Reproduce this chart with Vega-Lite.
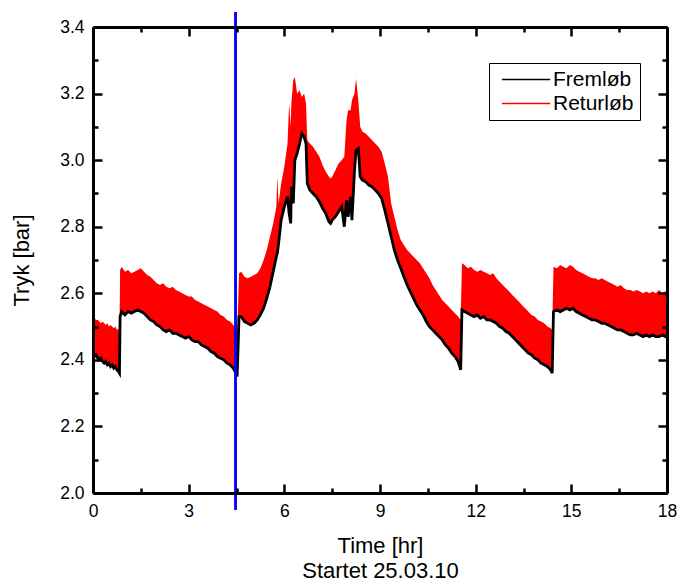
{
  "$schema": "https://vega.github.io/schema/vega-lite/v6.json",
  "width": 574,
  "height": 466,
  "autosize": "none",
  "padding": {"left": 93, "top": 27, "right": 13, "bottom": 90},
  "background": "white",
  "config": {
    "view": {"stroke": null},
    "font": "Liberation Sans",
    "axis": {"grid": false, "domainColor": "#000000", "domainWidth": 3, "tickColor": "#000000", "tickWidth": 2.5, "ticks": true, "labelColor": "black", "labelFont": "Liberation Sans", "labelFontSize": 17.5, "titleFont": "Liberation Sans", "titleFontSize": 22, "titleFontWeight": "normal", "titleColor": "black", "labelFlush": false}
  },
  "datasets": {
    "tryk": [
      {"t":0.00,"f":2.42,"r":2.53},{"t":0.05,"f":2.41,"r":2.525},{"t":0.10,"f":2.415,"r":2.52},{"t":0.15,"f":2.405,"r":2.52},
      {"t":0.20,"f":2.40,"r":2.515},{"t":0.25,"f":2.405,"r":2.51},{"t":0.30,"f":2.395,"r":2.515},{"t":0.35,"f":2.39,"r":2.51},
      {"t":0.40,"f":2.395,"r":2.505},{"t":0.45,"f":2.385,"r":2.51},{"t":0.50,"f":2.39,"r":2.50},{"t":0.55,"f":2.38,"r":2.505},
      {"t":0.60,"f":2.385,"r":2.50},{"t":0.65,"f":2.375,"r":2.495},{"t":0.70,"f":2.38,"r":2.50},{"t":0.75,"f":2.37,"r":2.49},
      {"t":0.80,"f":2.365,"r":2.495},{"t":0.83,"f":2.36,"r":2.49},
      {"t":0.85,"f":2.53,"r":2.67},{"t":0.90,"f":2.545,"r":2.68},{"t":1.0,"f":2.535,"r":2.665},{"t":1.1,"f":2.545,"r":2.67},
      {"t":1.2,"f":2.54,"r":2.66},{"t":1.3,"f":2.545,"r":2.665},{"t":1.4,"f":2.55,"r":2.67},{"t":1.5,"f":2.545,"r":2.675},
      {"t":1.6,"f":2.54,"r":2.665},{"t":1.7,"f":2.53,"r":2.655},{"t":1.8,"f":2.52,"r":2.65},{"t":1.9,"f":2.515,"r":2.64},
      {"t":2.0,"f":2.505,"r":2.63},{"t":2.1,"f":2.50,"r":2.625},{"t":2.2,"f":2.49,"r":2.63},{"t":2.3,"f":2.485,"r":2.62},
      {"t":2.4,"f":2.49,"r":2.615},{"t":2.5,"f":2.48,"r":2.62},{"t":2.6,"f":2.48,"r":2.61},{"t":2.7,"f":2.475,"r":2.605},
      {"t":2.8,"f":2.47,"r":2.60},{"t":2.9,"f":2.465,"r":2.595},{"t":3.0,"f":2.47,"r":2.59},{"t":3.1,"f":2.46,"r":2.59},
      {"t":3.2,"f":2.455,"r":2.58},{"t":3.3,"f":2.455,"r":2.575},{"t":3.4,"f":2.445,"r":2.57},{"t":3.5,"f":2.44,"r":2.565},
      {"t":3.6,"f":2.435,"r":2.56},{"t":3.7,"f":2.425,"r":2.555},{"t":3.8,"f":2.42,"r":2.55},{"t":3.9,"f":2.41,"r":2.545},
      {"t":4.0,"f":2.405,"r":2.535},{"t":4.1,"f":2.40,"r":2.53},{"t":4.2,"f":2.39,"r":2.52},{"t":4.3,"f":2.385,"r":2.515},
      {"t":4.4,"f":2.375,"r":2.505},{"t":4.48,"f":2.36,"r":2.49},{"t":4.52,"f":2.35,"r":2.47},
      {"t":4.58,"f":2.53,"r":2.66},{"t":4.65,"f":2.53,"r":2.665},{"t":4.75,"f":2.515,"r":2.65},{"t":4.85,"f":2.51,"r":2.645},
      {"t":4.95,"f":2.505,"r":2.65},{"t":5.05,"f":2.51,"r":2.655},{"t":5.15,"f":2.52,"r":2.66},{"t":5.25,"f":2.535,"r":2.675},
      {"t":5.35,"f":2.555,"r":2.70},{"t":5.45,"f":2.585,"r":2.73},{"t":5.55,"f":2.62,"r":2.77},{"t":5.65,"f":2.665,"r":2.81},
      {"t":5.75,"f":2.71,"r":2.86},{"t":5.78,"f":2.72,"r":2.95},{"t":5.82,"f":2.75,"r":2.87},{"t":5.9,"f":2.82,"r":2.93},
      {"t":6.0,"f":2.86,"r":2.98},{"t":6.1,"f":2.89,"r":3.05},{"t":6.15,"f":2.84,"r":3.17},{"t":6.2,"f":2.81,"r":3.10},
      {"t":6.22,"f":2.92,"r":3.17},{"t":6.28,"f":2.87,"r":3.24},{"t":6.33,"f":3.00,"r":3.25},{"t":6.40,"f":3.02,"r":3.20},
      {"t":6.48,"f":3.05,"r":3.21},{"t":6.55,"f":3.08,"r":3.19},{"t":6.62,"f":3.07,"r":3.20},{"t":6.68,"f":3.05,"r":3.17},
      {"t":6.72,"f":2.93,"r":3.06},{"t":6.8,"f":2.91,"r":3.05},{"t":6.9,"f":2.90,"r":3.04},{"t":7.0,"f":2.89,"r":3.025},
      {"t":7.1,"f":2.875,"r":3.01},{"t":7.2,"f":2.855,"r":2.985},{"t":7.3,"f":2.84,"r":2.965},{"t":7.4,"f":2.815,"r":2.95},
      {"t":7.45,"f":2.81,"r":2.945},{"t":7.5,"f":2.82,"r":2.95},{"t":7.6,"f":2.83,"r":2.97},{"t":7.7,"f":2.845,"r":2.99},
      {"t":7.8,"f":2.86,"r":3.0},{"t":7.88,"f":2.80,"r":3.01},{"t":7.95,"f":2.88,"r":3.12},{"t":8.0,"f":2.83,"r":3.15},
      {"t":8.08,"f":2.89,"r":3.15},{"t":8.12,"f":2.82,"r":3.18},{"t":8.2,"f":2.97,"r":3.20},{"t":8.25,"f":3.03,"r":3.245},
      {"t":8.32,"f":3.035,"r":3.18},{"t":8.38,"f":2.95,"r":3.10},{"t":8.45,"f":2.94,"r":3.085},{"t":8.55,"f":2.935,"r":3.08},
      {"t":8.65,"f":2.925,"r":3.07},{"t":8.75,"f":2.92,"r":3.06},{"t":8.85,"f":2.91,"r":3.05},{"t":8.95,"f":2.90,"r":3.04},
      {"t":9.05,"f":2.885,"r":3.025},{"t":9.15,"f":2.85,"r":2.99},{"t":9.25,"f":2.81,"r":2.95},{"t":9.35,"f":2.77,"r":2.87},
      {"t":9.45,"f":2.73,"r":2.83},{"t":9.55,"f":2.70,"r":2.79},{"t":9.65,"f":2.675,"r":2.76},{"t":9.75,"f":2.65,"r":2.745},
      {"t":9.85,"f":2.625,"r":2.73},{"t":9.95,"f":2.605,"r":2.72},{"t":10.05,"f":2.585,"r":2.71},{"t":10.15,"f":2.565,"r":2.70},
      {"t":10.25,"f":2.55,"r":2.69},{"t":10.35,"f":2.535,"r":2.675},{"t":10.45,"f":2.515,"r":2.66},{"t":10.55,"f":2.50,"r":2.645},
      {"t":10.65,"f":2.49,"r":2.625},{"t":10.75,"f":2.48,"r":2.61},{"t":10.85,"f":2.47,"r":2.595},{"t":10.95,"f":2.46,"r":2.58},
      {"t":11.05,"f":2.445,"r":2.57},{"t":11.15,"f":2.435,"r":2.56},{"t":11.25,"f":2.42,"r":2.55},{"t":11.35,"f":2.41,"r":2.54},
      {"t":11.45,"f":2.395,"r":2.53},{"t":11.53,"f":2.37,"r":2.52},
      {"t":11.57,"f":2.55,"r":2.69},{"t":11.65,"f":2.545,"r":2.685},{"t":11.75,"f":2.54,"r":2.675},{"t":11.85,"f":2.535,"r":2.68},
      {"t":11.95,"f":2.53,"r":2.67},{"t":12.05,"f":2.535,"r":2.665},{"t":12.15,"f":2.525,"r":2.67},{"t":12.25,"f":2.53,"r":2.665},
      {"t":12.35,"f":2.52,"r":2.66},{"t":12.45,"f":2.52,"r":2.655},{"t":12.55,"f":2.515,"r":2.66},{"t":12.65,"f":2.51,"r":2.645},
      {"t":12.75,"f":2.50,"r":2.635},{"t":12.85,"f":2.495,"r":2.625},{"t":12.95,"f":2.485,"r":2.615},{"t":13.05,"f":2.48,"r":2.605},
      {"t":13.15,"f":2.47,"r":2.595},{"t":13.25,"f":2.46,"r":2.585},{"t":13.35,"f":2.45,"r":2.575},{"t":13.45,"f":2.44,"r":2.565},
      {"t":13.55,"f":2.43,"r":2.555},{"t":13.65,"f":2.42,"r":2.545},{"t":13.75,"f":2.415,"r":2.535},{"t":13.85,"f":2.405,"r":2.53},
      {"t":13.95,"f":2.40,"r":2.52},{"t":14.05,"f":2.39,"r":2.515},{"t":14.15,"f":2.385,"r":2.51},{"t":14.25,"f":2.38,"r":2.50},
      {"t":14.35,"f":2.37,"r":2.495},{"t":14.40,"f":2.36,"r":2.49},
      {"t":14.44,"f":2.545,"r":2.68},{"t":14.55,"f":2.55,"r":2.675},{"t":14.65,"f":2.545,"r":2.685},{"t":14.75,"f":2.55,"r":2.68},
      {"t":14.85,"f":2.555,"r":2.675},{"t":14.95,"f":2.55,"r":2.685},{"t":15.05,"f":2.555,"r":2.68},{"t":15.15,"f":2.545,"r":2.67},
      {"t":15.25,"f":2.54,"r":2.665},{"t":15.35,"f":2.535,"r":2.66},{"t":15.45,"f":2.53,"r":2.655},{"t":15.55,"f":2.525,"r":2.65},
      {"t":15.65,"f":2.52,"r":2.645},{"t":15.75,"f":2.52,"r":2.645},{"t":15.85,"f":2.515,"r":2.64},{"t":15.95,"f":2.51,"r":2.645},
      {"t":16.05,"f":2.51,"r":2.64},{"t":16.15,"f":2.505,"r":2.635},{"t":16.25,"f":2.50,"r":2.63},{"t":16.35,"f":2.495,"r":2.625},
      {"t":16.45,"f":2.49,"r":2.62},{"t":16.55,"f":2.49,"r":2.625},{"t":16.65,"f":2.485,"r":2.615},{"t":16.75,"f":2.48,"r":2.61},
      {"t":16.85,"f":2.475,"r":2.61},{"t":16.95,"f":2.475,"r":2.605},{"t":17.05,"f":2.48,"r":2.61},{"t":17.15,"f":2.475,"r":2.605},
      {"t":17.25,"f":2.47,"r":2.60},{"t":17.35,"f":2.475,"r":2.605},{"t":17.45,"f":2.47,"r":2.60},{"t":17.55,"f":2.475,"r":2.605},
      {"t":17.65,"f":2.47,"r":2.60},{"t":17.75,"f":2.47,"r":2.61},{"t":17.85,"f":2.475,"r":2.60},{"t":17.95,"f":2.47,"r":2.605},
      {"t":18.0,"f":2.475,"r":2.61}
    ],
    "marker": [{"t": 4.47, "lo": 1.95, "hi": 3.445}]
  },
  "resolve": {"axis": {"x": "independent", "y": "independent"}},
  "layer": [
    {
      "data": {"name": "tryk"},
      "mark": {"type": "area", "opacity": 1},
      "encoding": {
        "x": {"field": "t", "type": "quantitative", "scale": {"domain": [0, 18], "nice": false},
          "axis": {"orient": "bottom", "zindex": 2, "values": [0,3,6,9,12,15,18], "tickSize": -9, "tickWidth": 2.5, "tickColor": "#000000", "domainWidth": 3, "domainColor": "#000000",
            "labelPadding": 18, "title": ["Time [hr]", "Startet 25.03.10"], "titleLineHeight": 25, "titlePadding": 16}},
        "y": {"field": "r", "type": "quantitative", "scale": {"domain": [2.0, 3.4], "nice": false},
          "axis": {"orient": "left", "zindex": 2, "values": [2.0,2.2,2.4,2.6,2.8,3.0,3.2,3.4], "format": ".1f", "tickSize": -9, "tickWidth": 2.5, "tickColor": "#000000", "domainWidth": 3, "domainColor": "#000000",
            "labelPadding": 18, "title": "Tryk [bar]", "titlePadding": 26}},
        "y2": {"field": "f"},
        "color": {"datum": "Returløb", "type": "nominal",
          "scale": {"domain": ["Fremløb", "Returløb"], "range": ["black", "#ff0000"]},
          "legend": {"orient": "none", "legendX": 396, "legendY": 36, "title": null,
            "symbolType": "M-0.6,0H7.45", "symbolSize": 144, "symbolStrokeWidth": 1.5,
            "labelFontSize": 21, "labelFont": "Liberation Sans", "labelColor": "black",
            "strokeColor": "black", "padding": 6, "rowPadding": 2, "labelOffset": 37,
            "fillColor": "white",
            "encode": {"symbols": {"update": {"stroke": {"scale": "color", "field": "value"}, "fill": {"value": "transparent"}}}}}}
      }
    },
    {
      "data": {"name": "tryk"},
      "mark": {"type": "line", "strokeWidth": 2.8},
      "encoding": {
        "x": {"field": "t", "type": "quantitative",
          "axis": {"orient": "top", "zindex": 2, "values": [0,3,6,9,12,15,18], "labels": false, "title": null, "tickSize": -9, "tickWidth": 2.5, "tickColor": "#000000", "domainWidth": 3, "domainColor": "#000000"}},
        "y": {"field": "f", "type": "quantitative",
          "axis": {"orient": "right", "zindex": 2, "values": [2.0,2.2,2.4,2.6,2.8,3.0,3.2,3.4], "labels": false, "title": null, "tickSize": -9, "tickWidth": 2.5, "tickColor": "#000000", "domainWidth": 3, "domainColor": "#000000"}},
        "color": {"datum": "Fremløb", "type": "nominal"}
      }
    },
    {
      "data": {"name": "marker"},
      "mark": {"type": "rule", "color": "#0000ff", "strokeWidth": 2.5},
      "encoding": {
        "x": {"field": "t", "type": "quantitative",
          "axis": {"orient": "bottom", "zindex": 2, "values": [1.5,4.5,7.5,10.5,13.5,16.5], "labels": false, "domain": false, "title": null, "tickSize": -5, "tickWidth": 2.5, "tickColor": "#000000"}},
        "y": {"field": "lo", "type": "quantitative",
          "axis": {"orient": "left", "zindex": 2, "values": [2.1,2.3,2.5,2.7,2.9,3.1,3.3], "labels": false, "domain": false, "title": null, "tickSize": -5, "tickWidth": 2.5, "tickColor": "#000000"}},
        "y2": {"field": "hi"}
      }
    },
    {
      "data": {"name": "marker"},
      "mark": {"type": "rule", "color": "#0000ff", "strokeWidth": 2.5},
      "encoding": {
        "x": {"field": "t", "type": "quantitative",
          "axis": {"orient": "top", "zindex": 2, "values": [1.5,4.5,7.5,10.5,13.5,16.5], "labels": false, "domain": false, "title": null, "tickSize": -5, "tickWidth": 2.5, "tickColor": "#000000"}},
        "y": {"field": "lo", "type": "quantitative",
          "axis": {"orient": "right", "zindex": 2, "values": [2.1,2.3,2.5,2.7,2.9,3.1,3.3], "labels": false, "domain": false, "title": null, "tickSize": -5, "tickWidth": 2.5, "tickColor": "#000000"}},
        "y2": {"field": "hi"}
      }
    }
  ]
}
